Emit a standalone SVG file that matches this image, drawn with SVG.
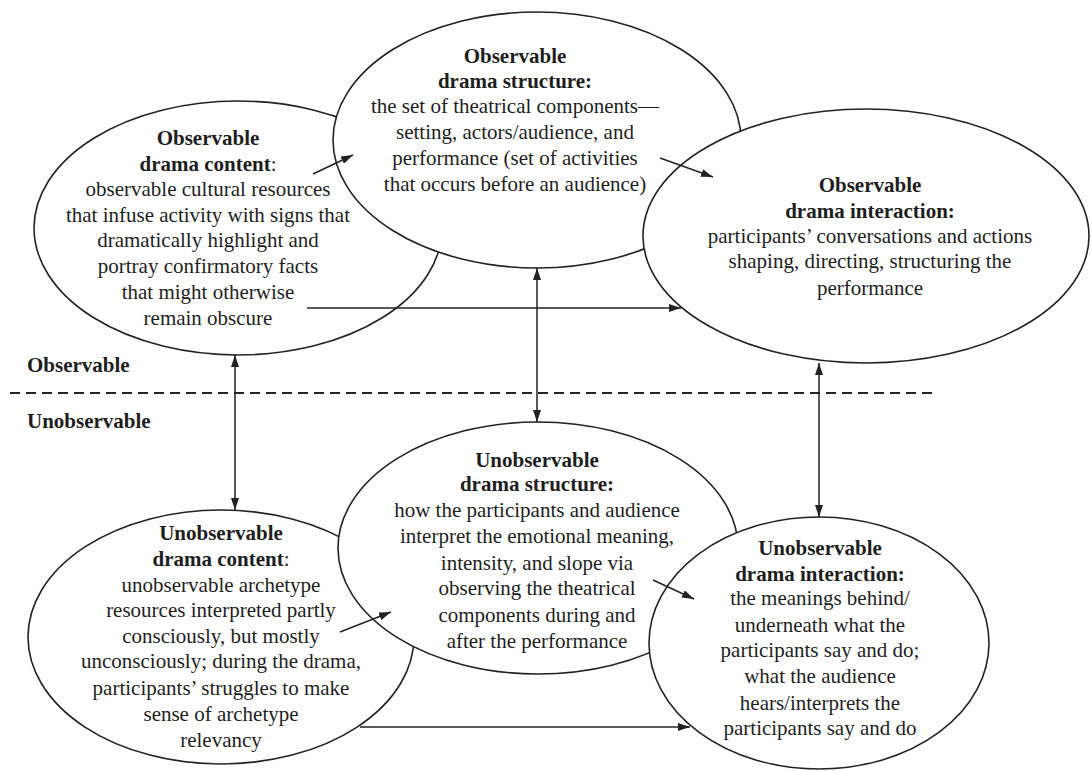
<svg xmlns="http://www.w3.org/2000/svg" width="1092" height="771" viewBox="0 0 1092 771">
<defs>
<style>
.bg{fill:#ffffff}
.node ellipse{fill:#ffffff;stroke:#222222;stroke-width:1.6}
text{font-family:"Liberation Serif","Times New Roman",serif;font-size:21px;fill:#1e1e1e;text-anchor:middle}
.b{font-weight:bold}
.n{font-weight:normal}
.lbl{text-anchor:start;font-weight:bold}
.conn line{stroke:#222222;stroke-width:1.5;fill:none}
.e{marker-end:url(#ah)}
.se{marker-start:url(#ahs);marker-end:url(#ah)}
.dash{stroke:#222222;stroke-width:2;stroke-dasharray:10 6}
</style>
<marker id="ah" viewBox="0 0 12 8" refX="12" refY="4" markerWidth="12" markerHeight="8" markerUnits="userSpaceOnUse" orient="auto">
<path d="M0,0 L12,4 L0,8 z" fill="#222222"/>
</marker>
<marker id="ahs" viewBox="0 0 12 8" refX="0" refY="4" markerWidth="12" markerHeight="8" markerUnits="userSpaceOnUse" orient="auto">
<path d="M12,0 L0,4 L12,8 z" fill="#222222"/>
</marker>
</defs>
<rect class="bg" x="0" y="0" width="1092" height="771"/>

<g id="obs-content" class="node">
<ellipse cx="238" cy="228" rx="204" ry="127"/>
<text x="208" y="145" class="b">Observable</text>
<text x="208" y="171" class="b">drama content<tspan class="n">:</tspan></text>
<text x="208" y="196">observable cultural resources</text>
<text x="208" y="222">that infuse activity with signs that</text>
<text x="208" y="247">dramatically highlight and</text>
<text x="208" y="273">portray confirmatory facts</text>
<text x="208" y="299">that might otherwise</text>
<text x="208" y="325">remain obscure</text>
</g>

<g id="obs-structure" class="node">
<ellipse cx="537" cy="140" rx="204" ry="128"/>
<text x="515" y="63" class="b">Observable</text>
<text x="515" y="88" class="b">drama structure:</text>
<text x="515" y="113">the set of theatrical components—</text>
<text x="515" y="139">setting, actors/audience, and</text>
<text x="515" y="165">performance (set of activities</text>
<text x="515" y="191">that occurs before an audience)</text>
</g>

<g id="obs-interaction" class="node">
<ellipse cx="866" cy="236" rx="223" ry="127"/>
<text x="870" y="192" class="b">Observable</text>
<text x="870" y="218" class="b">drama interaction:</text>
<text x="870" y="243">participants’ conversations and actions</text>
<text x="870" y="268">shaping, directing, structuring the</text>
<text x="870" y="295">performance</text>
</g>

<g id="unobs-content" class="node">
<ellipse cx="221" cy="637" rx="193" ry="127"/>
<text x="221" y="540" class="b">Unobservable</text>
<text x="221" y="566" class="b">drama content<tspan class="n">:</tspan></text>
<text x="221" y="592">unobservable archetype</text>
<text x="221" y="617">resources interpreted partly</text>
<text x="221" y="643">consciously, but mostly</text>
<text x="221" y="668">unconsciously; during the drama,</text>
<text x="221" y="695">participants’ struggles to make</text>
<text x="221" y="721">sense of archetype</text>
<text x="221" y="747">relevancy</text>
</g>

<g id="unobs-structure" class="node">
<ellipse cx="538" cy="548" rx="200" ry="126"/>
<text x="537" y="467" class="b">Unobservable</text>
<text x="537" y="491" class="b">drama structure:</text>
<text x="537" y="517">how the participants and audience</text>
<text x="537" y="543">interpret the emotional meaning,</text>
<text x="537" y="570">intensity, and slope via</text>
<text x="537" y="595">observing the theatrical</text>
<text x="537" y="622">components during and</text>
<text x="537" y="648">after the performance</text>
</g>

<g id="unobs-interaction" class="node">
<ellipse cx="819" cy="643" rx="170" ry="126"/>
<text x="820" y="555" class="b">Unobservable</text>
<text x="820" y="581" class="b">drama interaction:</text>
<text x="820" y="605">the meanings behind/</text>
<text x="820" y="632">underneath what the</text>
<text x="820" y="657">participants say and do;</text>
<text x="820" y="683">what the audience</text>
<text x="820" y="710">hears/interprets the</text>
<text x="820" y="735">participants say and do</text>
</g>

<g id="divider">
<line class="dash" x1="10" y1="393" x2="938" y2="393"/>
<text x="27" y="372" class="lbl">Observable</text>
<text x="27" y="428" class="lbl">Unobservable</text>
</g>

<g id="connectors" class="conn">
<line class="e" x1="313" y1="174" x2="353" y2="155"/>
<line class="e" x1="660" y1="158" x2="713" y2="177"/>
<line class="e" x1="307" y1="308" x2="681" y2="308"/>
<line class="se" x1="235" y1="355" x2="235" y2="510"/>
<line class="se" x1="537" y1="268" x2="537" y2="422"/>
<line class="se" x1="819" y1="363" x2="819" y2="517"/>
<line class="e" x1="340" y1="632" x2="391" y2="612"/>
<line class="e" x1="653" y1="580" x2="694" y2="599"/>
<line class="e" x1="360" y1="727" x2="690" y2="727"/>
</g>
</svg>
